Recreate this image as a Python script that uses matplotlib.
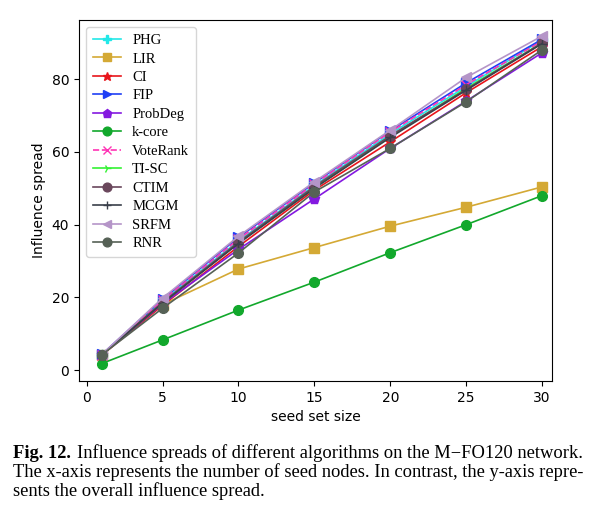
import matplotlib
matplotlib.use("Agg")
import matplotlib.pyplot as plt

seed_sizes = [1, 5, 10, 15, 20, 25, 30]

algorithms = ["PHG", "LIR", "CI", "FIP", "ProbDeg", "k-core", "VoteRank",
              "TI-SC", "CTIM", "MCGM", "SRFM", "RNR"]

phg      = [4.2, 19.0, 35.5, 50.8, 65.0, 78.0, 90.8]
lir      = [4.2, 18.0, 27.8, 33.7, 39.6, 44.8, 50.4]
ci       = [4.1, 17.8, 34.0, 49.5, 62.8, 76.3, 89.0]
fip      = [4.3, 19.5, 36.5, 51.5, 65.8, 79.0, 91.0]
probdeg  = [4.2, 18.2, 33.2, 47.1, 61.0, 74.0, 87.3]
kcore    = [1.8, 8.3, 16.5, 24.2, 32.3, 40.0, 48.0]
voterank = [4.2, 19.2, 36.0, 51.2, 65.5, 78.5, 90.5]
tisc     = [4.2, 18.5, 35.0, 50.2, 64.2, 77.5, 90.0]
ctim     = [4.2, 18.6, 35.2, 50.5, 64.5, 77.2, 90.0]
mcgm     = [4.2, 18.4, 34.8, 50.0, 64.0, 77.0, 89.8]
srfm     = [4.3, 19.8, 36.8, 51.8, 66.0, 80.5, 91.9]
rnr      = [4.2, 17.0, 32.2, 49.0, 61.0, 73.8, 88.1]

series = [phg, lir, ci, fip, probdeg, kcore, voterank, tisc, ctim, mcgm, srfm, rnr]

styles = [
    dict(color="#22e8e8", marker="P", ls="-"),
    dict(color="#d4a935", marker="s", ls="-"),
    dict(color="#e8151b", marker="*", ls="-"),
    dict(color="#1f3ff5", marker=">", ls="-"),
    dict(color="#8419e0", marker="p", ls="-"),
    dict(color="#12a82c", marker="o", ls="-"),
    dict(color="#ff33b5", marker="x", ls="--"),
    dict(color="#33f233", marker="4", ls="-"),
    dict(color="#6a475c", marker="o", ls="-"),
    dict(color="#3a3f4a", marker="+", ls="-"),
    dict(color="#b595c8", marker="<", ls="-"),
    dict(color="#566156", marker="o", ls="-"),
]

fig = plt.figure(figsize=(5.95, 5.12), dpi=100)
ax = fig.add_axes([79/595, 1-381/512, (552-79)/595, (381-20)/512])

for name, vals, st in zip(algorithms, series, styles):
    ax.plot(seed_sizes, vals, color=st["color"], marker=st["marker"], ls=st["ls"],
            lw=1.2, markersize=7, label=name)

ax.set_xlim(-0.5, 30.65)
ax.set_ylim(-3.0, 96.3)
ax.set_xticks([0, 5, 10, 15, 20, 25, 30])
ax.set_yticks([0, 20, 40, 60, 80])
ax.tick_params(labelsize=10)
ax.set_xlabel("seed set size", fontsize=10)
ax.set_ylabel("Influence spread", fontsize=10)

ax.legend(loc="upper left", prop={"family": "Liberation Serif", "size": 10.5},
          handlelength=1.9, labelspacing=0.36, borderpad=0.45, handletextpad=0.8,
          markerscale=0.9, bbox_to_anchor=(0.0, 1.0))

cap_size = 13.3
x0, y1, y2, y3 = 13/595, 1-453/512, 1-472/512, 1-491/512
bold = fig.text(x0, y1, "Fig. 12.", fontsize=cap_size, fontweight="bold",
                family="Liberation Serif", va="center", ha="left")
fig.canvas.draw()
bb = bold.get_window_extent(fig.canvas.get_renderer())
fig.text(bb.x1 / fig.bbox.width + 6/595, y1,
         "Influence spreads of different algorithms on the M\u2212FO120 network.",
         fontsize=cap_size, family="Liberation Serif", va="center", ha="left")
fig.text(x0, y2,
         "The x-axis represents the number of seed nodes. In contrast, the y-axis repre-",
         fontsize=cap_size, family="Liberation Serif", va="center", ha="left")
fig.text(x0, y3, "sents the overall influence spread.",
         fontsize=cap_size, family="Liberation Serif", va="center", ha="left")

fig.savefig("out.png", dpi=100)
